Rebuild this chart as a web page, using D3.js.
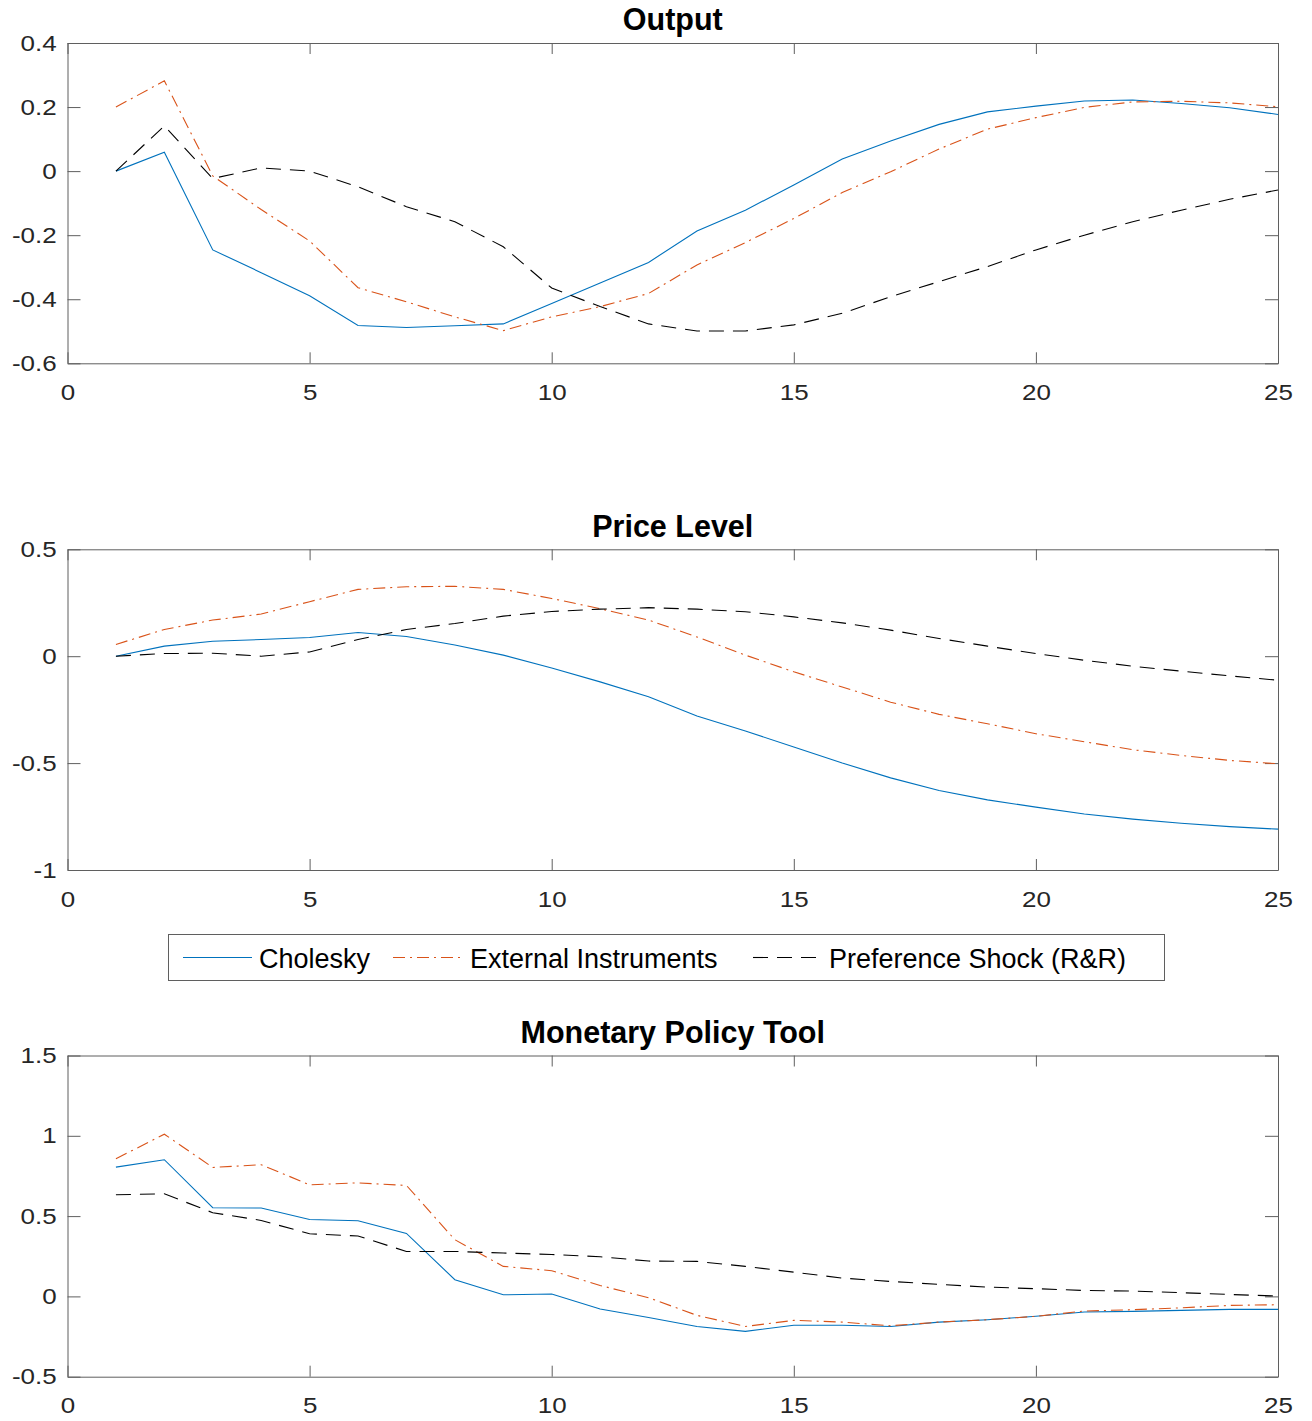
<!DOCTYPE html>
<html>
<head>
<meta charset="utf-8">
<script src="https://cdn.jsdelivr.net/npm/d3@7"></script>
<style>
  body { margin: 0; background: #fff; }
  svg { display: block; }
</style>
</head>
<body>
<svg id="chart" width="1312" height="1421"></svg>
<script>
// Impulse-response horizons (periods after the shock)
const horizons = [1, 2, 3, 4, 5, 6, 7, 8, 9, 10, 11, 12, 13, 14, 15, 16, 17, 18, 19, 20, 21, 22, 23, 24, 25];

const seriesNames = ["Cholesky", "External Instruments", "Preference Shock (R&R)"];
const panelTitles = ["Output", "Price Level", "Monetary Policy Tool"];
const xTicks = [0, 5, 10, 15, 20, 25];

// Output responses
const outputCholesky = [0, 0.059, -0.246, -0.317, -0.389, -0.482, -0.488, -0.483, -0.477, -0.413, -0.349, -0.285, -0.187, -0.122, -0.043, 0.038, 0.094, 0.146, 0.185, 0.203, 0.219, 0.222, 0.211, 0.198, 0.177];
const outputExternal = [0.2, 0.282, -0.015, -0.12, -0.218, -0.364, -0.408, -0.455, -0.498, -0.455, -0.423, -0.382, -0.293, -0.223, -0.148, -0.067, -0.002, 0.069, 0.131, 0.167, 0.199, 0.216, 0.218, 0.213, 0.201];
const outputPreference = [0, 0.141, -0.023, 0.010, 0, -0.049, -0.111, -0.158, -0.236, -0.365, -0.423, -0.477, -0.499, -0.499, -0.480, -0.444, -0.392, -0.345, -0.298, -0.246, -0.200, -0.158, -0.122, -0.088, -0.059];

// Price level responses
const priceCholesky = [0, 0.047, 0.070, 0.078, 0.0875, 0.111, 0.092, 0.052, 0.005, -0.055, -0.12, -0.19, -0.28, -0.35, -0.425, -0.5, -0.569, -0.628, -0.672, -0.706, -0.738, -0.762, -0.781, -0.797, -0.809];
const priceExternal = [0.055, 0.125, 0.169, 0.197, 0.255, 0.3125, 0.325, 0.327, 0.3125, 0.27, 0.222, 0.169, 0.09, 0.005, -0.073, -0.144, -0.215, -0.272, -0.316, -0.3625, -0.40, -0.4375, -0.464, -0.4875, -0.503];
const pricePreference = [0, 0.0125, 0.014, 0, 0.02, 0.078, 0.125, 0.153, 0.1875, 0.209, 0.22, 0.227, 0.22, 0.208, 0.184, 0.156, 0.122, 0.083, 0.047, 0.0125, -0.019, -0.047, -0.070, -0.092, -0.1125];

// Monetary policy tool responses
const toolCholesky = [0.805, 0.851, 0.552, 0.550, 0.479, 0.471, 0.392, 0.104, 0.010, 0.0145, -0.079, -0.131, -0.187, -0.218, -0.18, -0.18, -0.187, -0.16, -0.145, -0.124, -0.0975, -0.093, -0.087, -0.081, -0.081];
const toolExternal = [0.857, 1.010, 0.803, 0.820, 0.695, 0.707, 0.691, 0.353, 0.187, 0.160, 0.068, -0.008, -0.118, -0.187, -0.149, -0.16, -0.183, -0.16, -0.145, -0.124, -0.091, -0.083, -0.071, -0.056, -0.052];
const toolPreference = [0.633, 0.639, 0.521, 0.473, 0.39, 0.376, 0.28, 0.28, 0.27, 0.261, 0.247, 0.22, 0.218, 0.187, 0.151, 0.114, 0.093, 0.075, 0.058, 0.048, 0.037, 0.033, 0.023, 0.012, 0.002];

const yDomains = [[-0.6, 0.4], [-1, 0.5], [-0.5, 1.5]];
const yTicks = [
  [-0.6, -0.4, -0.2, 0, 0.2, 0.4],
  [-1, -0.5, 0, 0.5],
  [-0.5, 0, 0.5, 1, 1.5]
];

const panelData = [
  [outputCholesky, outputExternal, outputPreference],
  [priceCholesky, priceExternal, pricePreference],
  [toolCholesky, toolExternal, toolPreference]
];

// Drawing styles
const colors = ["#0072BD", "#D95319", "#000000"];
const dashes = [null, "12,5,2,5", "15,9"];
const fontFamily = "'Liberation Sans', Arial, Helvetica, sans-serif";
const axisColor = "#5f5f5f";
const labelColor = "#262626";
const labelStretch = 1.18;

const left = 67.5, right = 1278;
const panelBoxes = [
  { top: 43, bottom: 363.3 },
  { top: 549.3, bottom: 870 },
  { top: 1055.5, bottom: 1376.7 }
];

const svg = d3.select("#chart");
const x = d3.scaleLinear().domain([0, 25]).range([left, right]);
const fmt = v => String(+v.toFixed(2));

panelBoxes.forEach((box, p) => {
  const y = d3.scaleLinear().domain(yDomains[p]).range([box.bottom, box.top]);
  const g = svg.append("g");

  // Box with inward ticks on all four sides
  const styleAxis = sel => {
    sel.selectAll(".domain").attr("stroke", axisColor).attr("stroke-width", 1);
    sel.selectAll(".tick line").attr("stroke", axisColor).attr("stroke-width", 1);
  };

  g.append("g")
    .attr("transform", `translate(0,${box.bottom})`)
    .call(d3.axisBottom(x).tickValues(xTicks).tickSizeInner(-11).tickSizeOuter(0).tickPadding(21).tickFormat(fmt))
    .call(styleAxis)
    .call(s => s.selectAll("text")
      .attr("fill", labelColor)
      .style("font-family", fontFamily)
      .style("font-size", "22px")
      .attr("transform", `scale(${labelStretch},1)`));

  g.append("g")
    .attr("transform", `translate(0,${box.top})`)
    .call(d3.axisTop(x).tickValues(xTicks).tickSizeInner(-11).tickSizeOuter(0).tickFormat(""))
    .call(styleAxis);

  g.append("g")
    .attr("transform", `translate(${left},0)`)
    .call(d3.axisLeft(y).tickValues(yTicks[p]).tickSizeInner(-13).tickSizeOuter(0).tickPadding(9.2).tickFormat(fmt))
    .call(styleAxis)
    .call(s => s.selectAll("text")
      .attr("fill", labelColor)
      .style("font-family", fontFamily)
      .style("font-size", "22px")
      .attr("transform", `scale(${labelStretch},1)`));

  g.append("g")
    .attr("transform", `translate(${right},0)`)
    .call(d3.axisRight(y).tickValues(yTicks[p]).tickSizeInner(-13).tickSizeOuter(0).tickFormat(""))
    .call(styleAxis);

  g.selectAll("g").attr("font-family", null).attr("font-size", null);

  // Response lines
  const line = d3.line().x((d, i) => x(horizons[i])).y(d => y(d));
  panelData[p].forEach((values, s) => {
    g.append("path")
      .datum(values)
      .attr("d", line)
      .attr("fill", "none")
      .attr("stroke", colors[s])
      .attr("stroke-width", 1.1)
      .attr("stroke-dasharray", dashes[s]);
  });

  // Panel title
  g.append("text")
    .attr("x", (left + right) / 2)
    .attr("y", box.top - 12.7)
    .attr("text-anchor", "middle")
    .style("font-family", fontFamily)
    .style("font-size", "30.5px")
    .style("font-weight", "bold")
    .attr("fill", "#000")
    .text(panelTitles[p]);
});

// Legend
const legend = svg.append("g");
legend.append("rect")
  .attr("x", 168.5).attr("y", 934.5)
  .attr("width", 996).attr("height", 46)
  .attr("fill", "#fff")
  .attr("stroke", axisColor)
  .attr("stroke-width", 1);

const legendItems = [
  { x1: 183, x2: 252, tx: 259 },
  { x1: 393, x2: 463, tx: 470 },
  { x1: 753, x2: 821, tx: 829 }
];
legendItems.forEach((item, s) => {
  legend.append("line")
    .attr("x1", item.x1).attr("x2", item.x2)
    .attr("y1", 957.5).attr("y2", 957.5)
    .attr("stroke", colors[s])
    .attr("stroke-width", 1.1)
    .attr("stroke-dasharray", dashes[s]);
  legend.append("text")
    .attr("x", item.tx).attr("y", 967.5)
    .style("font-family", fontFamily)
    .style("font-size", "27px")
    .attr("fill", "#000")
    .text(seriesNames[s]);
});
</script>
</body>
</html>
